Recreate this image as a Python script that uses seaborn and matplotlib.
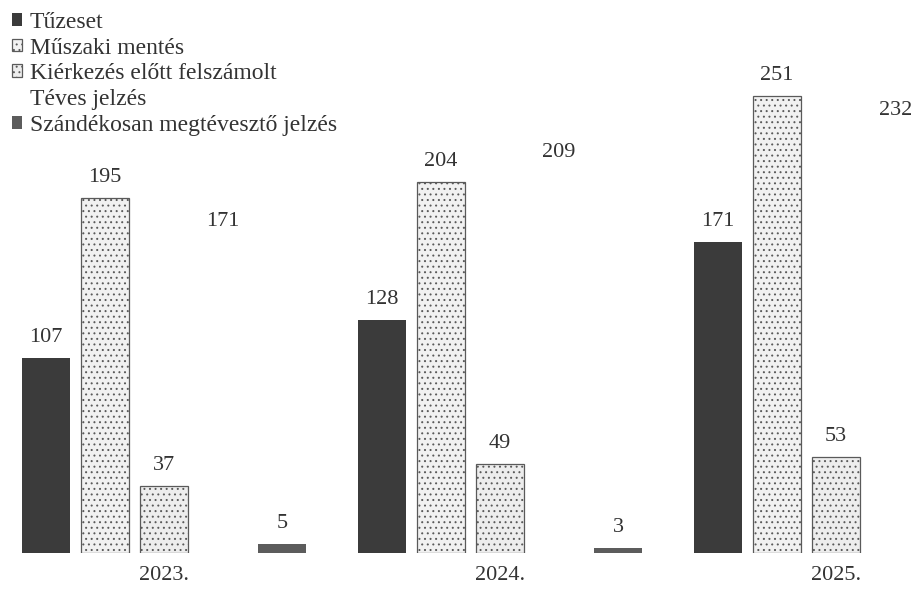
import pandas as pd
import seaborn as sns
import matplotlib.pyplot as plt

# values
years = ["2023.", "2024.", "2025."]
categories = ["Tűzeset", "Műszaki mentés", "Kiérkezés előtt felszámolt",
              "Téves jelzés", "Szándékosan megtévesztő jelzés"]
tuzeset = [107, 128, 171]
muszaki = [195, 204, 251]
kierkezes = [37, 49, 53]
teves = [171, 209, 232]
szandekos = [5, 3, None]  # 2025 bar falls outside the scanned page

rows = []
for cat, vals in zip(categories, [tuzeset, muszaki, kierkezes, teves, szandekos]):
    for yr, v in zip(years, vals):
        if v is not None:
            rows.append({"ev": yr, "tipus": cat, "db": v})
df = pd.DataFrame(rows)

colors = ["#3b3b3b", "#f1f1f1", "#ededed", "white", "#5c5c5c"]
hatches = [None, "...", "...", None, None]

sns.set_style("white")
plt.rcParams["font.family"] = ["Liberation Serif", "DejaVu Serif"]
plt.rcParams["hatch.linewidth"] = 0.7
plt.rcParams["hatch.color"] = "#5a5a5a"

fig = plt.figure(figsize=(9.2, 5.96), dpi=100)
ax = fig.add_axes([0, 0.072, 1, 0.928])

sns.barplot(data=df, x="ev", y="db", hue="tipus", order=years, hue_order=categories,
            palette=colors, width=0.88, gap=0.19, linewidth=0, ax=ax, legend=False)

for cont, h, c in zip(ax.containers, hatches, colors):
    for p in cont:
        if h:
            p.set_hatch(h)
            p.set_edgecolor("#5a5a5a")
            p.set_linewidth(0.9)
    ax.bar_label(cont, fmt="%d", padding=8, fontsize=16, color="#333333")

ax.set_xlim(-0.488, 2.25)
ax.set_ylim(0, 304)
ax.set_xlabel("")
ax.set_ylabel("")
ax.set_yticks([])
ax.tick_params(axis="x", length=0, pad=9.5, labelsize=16, labelcolor="#333333")
sns.despine(ax=ax, left=True, bottom=True)

handles = [cont.patches[0] for cont in ax.containers]
leg = ax.legend(handles, categories, loc="upper left", bbox_to_anchor=(0.0, 1.0),
                frameon=False, fontsize=17, handlelength=0.45, handleheight=0.45,
                handletextpad=0.3, labelspacing=0.2, borderaxespad=0.1)
for t in leg.get_texts():
    t.set_color("#333333")

fig.savefig("out.png", dpi=100)
